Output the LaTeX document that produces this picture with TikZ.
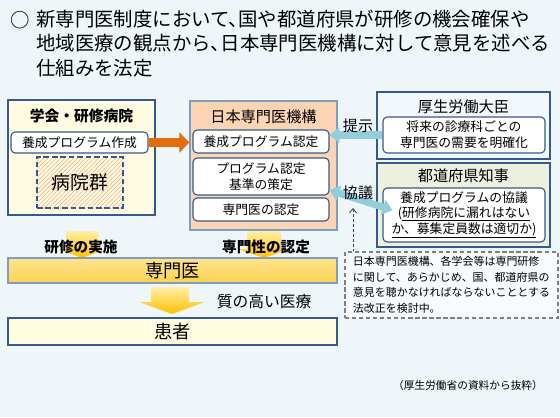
\documentclass[tikz,border=0pt]{standalone}
\usepackage{fontspec}
\setmainfont{Noto Sans CJK JP}
\newfontfamily\leadfont{Noto Sans CJK JP}[RawFeature=+halt]
\usetikzlibrary{arrows.meta,patterns}
\definecolor{bgblue}{HTML}{EEF6FA}
\definecolor{navyline}{HTML}{37598C}
\definecolor{orgline}{HTML}{7F9DC0}
\definecolor{creamfill}{HTML}{FFFBE3}
\definecolor{peach}{HTML}{FBD4B4}
\definecolor{mhlwfill}{HTML}{F3F8FC}
\definecolor{greenfill}{HTML}{EBF1DE}
\definecolor{kanjafill}{HTML}{FFFDE0}
\definecolor{notefill}{HTML}{F8FBFD}
\definecolor{notegray}{HTML}{7F7F7F}
\definecolor{hatchorange}{HTML}{F4B183}
\definecolor{orangeline}{HTML}{E46C0A}
\definecolor{tealarrow}{HTML}{92CDDC}
\definecolor{arrowtop}{HTML}{FFEFA8}
\definecolor{arrowbottom}{HTML}{FFC000}
\definecolor{senmontop}{HTML}{FFE38F}
\definecolor{senmonbottom}{HTML}{FFD24F}
\newcommand\pu{0.025cm}
\newcommand\fs[2]{\fontsize{#1}{#2}\selectfont}

\begin{document}
\begin{tikzpicture}[x=0.025cm,y=-0.025cm,
	box/.style 2 args={minimum width=#1*\pu,minimum height=#2*\pu,inner sep=0pt},
	outer/.style={draw=navyline,line width=1pt},
	inbox/.style 2 args={box={#1}{#2},draw=navyline,fill=white,rounded corners=3pt,line width=0.8pt,font=\fs{9.1}{11.4}},
	boxtitle/.style={font=\fs{10.8}{13}},
	flowlabel/.style={font=\fs{10.4}{12}\bfseries}]
	\fill[bgblue] (0,0) rectangle (560,417);
	\useasboundingbox (0,0) rectangle (560,417);

	% heading
	\node[font=\fs{13.8}{17}] (mark) at (20,20) {○};
	\node[font=\leadfont\fs{13.8}{17.2},anchor=north west,align=left,inner sep=0pt] (lead) at (36,10)
		{新専門医制度において、国や都道府県が研修の機会確保や\\地域医療の観点から、日本専門医機構に対して意見を述べる\\仕組みを法定};

	% societies and hospitals
	\node[box={147}{115},outer,fill=creamfill] (gakkai) at (81.5,157.5) {};
	\node[boxtitle,font=\fs{10.5}{12}\bfseries] (gakkaititle) at (81.5,116) {学会・研修病院};
	\node[inbox={137}{21}] (gakkaiprog) at (79.5,142.5) {養成プログラム作成};
	\node[box={86}{51},draw=navyline,line width=1pt,dash pattern=on 4pt off 2pt,
		preaction={fill=creamfill},pattern=north east lines,pattern color=hatchorange,
		font=\fs{13.4}{15}] (byoin) at (80,182.5) {病院群};

	% board
	\node[box={147}{129},draw=orgline,line width=1pt,fill=peach] (org) at (263.5,165.5) {};
	\node[boxtitle] (orgtitle) at (263.5,117) {日本専門医機構};
	\node[inbox={136}{23}] (orgprog) at (261,141.5) {養成プログラム認定};
	\node[inbox={136}{37},align=center] (orgstd) at (261,176.5) {プログラム認定\\基準の策定};
	\node[inbox={136}{23}] (orgcert) at (261,209.5) {専門医の認定};

	% minister and governors
	\node[box={173}{67},outer,fill=mhlwfill] (mhlw) at (463.5,125.5) {};
	\node[boxtitle] (mhlwtitle) at (463.5,107) {厚生労働大臣};
	\node[inbox={162}{36},align=center] (mhlwneed) at (464,135) {将来の診療科ごとの\\専門医の需要を明確化};
	\node[box={173}{84},outer,fill=greenfill] (pref) at (463.5,205) {};
	\node[boxtitle] (preftitle) at (463.5,176) {都道府県知事};
	\node[inbox={162}{54},align=center,font=\fs{9.1}{11}] (prefplan) at (464,215)
		{養成プログラムの協議\\(\underline{研修病院に漏れはない}\\\underline{か、募集定員数は適切か)}};

	% note
	\node[box={213}{66},draw=notegray,line width=0.8pt,dash pattern=on 3pt off 2pt,fill=notefill,
		align=left,font=\fs{7.8}{11.1}] (note) at (451.5,285)
		{日本専門医機構、各学会等は専門研修\\に関して、あらかじめ、国、都道府県の\\意見を聴かなければならないこととする\\法改正を検討中。};

	% connectors
	\draw[orangeline,line width=6.4pt,-{Triangle[width=14pt,length=7pt]}]
		(gakkaiprog.east) -- (gakkaiprog.east -| org.west);
	\draw[tealarrow,line width=5pt,-{Triangle[width=11pt,length=7pt]}]
		(mhlwneed.west) -- (mhlwneed.west -| orgprog.east);
	\draw[tealarrow,line width=5pt,{Triangle[width=11pt,length=7pt]}-{Triangle[width=11pt,length=7pt]}]
		([yshift=-0.34cm]orgstd.east) -- ([xshift=0.25cm,yshift=0.12cm]prefplan.west);
	\node[font=\fs{10.7}{12}] (teiji) at (358,126) {提示};
	\node[font=\fs{10.7}{12}] (kyogi) at (358,193) {協議};
	\coordinate (kyogitip) at (353,208);
	\draw[black!75,line width=0.6pt,dash pattern=on 2pt off 1.5pt,-{Straight Barb[length=3pt,width=5pt]}]
		(note.north -| kyogitip) -- (kyogitip);

	% specialists and patients
	\shade[top color=arrowtop,bottom color=arrowbottom]
		(66,231) -- (98,231) -- (98,249) -- (106,249) -- (82,258) -- (58,249) -- (66,249) -- cycle;
	\shade[top color=arrowtop,bottom color=arrowbottom]
		(247,231) -- (281,231) -- (281,249) -- (290,249) -- (264,258) -- (238,249) -- (247,249) -- cycle;
	\node[flowlabel] (jisshi) at (81,247) {研修の実施};
	\node[flowlabel] (nintei) at (266,247) {専門性の認定};
	\node[box={329}{25},draw=orgline,line width=1pt,top color=senmontop,bottom color=senmonbottom,
		font=\fs{13}{15}] (senmon) at (172.5,270.5) {専門医};
	\shade[top color=arrowtop,bottom color=arrowbottom]
		(151,287) -- (189,287) -- (189,302) -- (205,302) -- (172,314) -- (139,302) -- (151,302) -- cycle;
	\node[font=\fs{11.2}{13}] (quality) at (264,302) {質の高い医療};
	\node[box={329}{27},outer,fill=kanjafill,font=\fs{13}{15}] (kanja) at (172.5,331.5) {患者};

	\node[font=\fs{7.6}{9}] (source) at (468,385) {（厚生労働省の資料から抜粋）};
\end{tikzpicture}
\end{document}
